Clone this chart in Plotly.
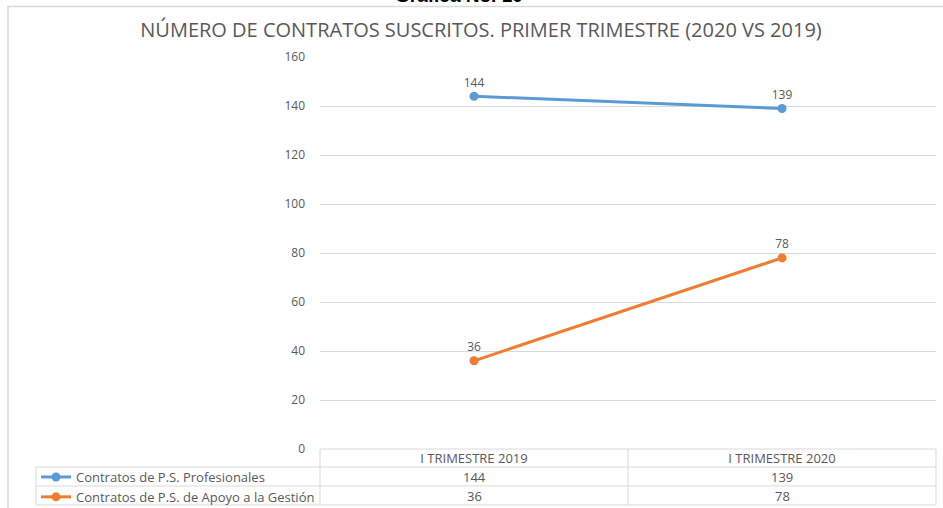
import plotly.graph_objects as go

categories = ["I TRIMESTRE 2019", "I TRIMESTRE 2020"]
series_names = ["Contratos de P.S. Profesionales", "Contratos de P.S. de Apoyo a la Gestión"]
profesionales = [144, 139]
apoyo = [36, 78]
series_values = [profesionales, apoyo]
series_colors = ["#5B9BD5", "#ED7D31"]
y_ticks = [0, 20, 40, 60, 80, 100, 120, 140, 160]

W, H = 943, 508
L, R, T, B = 320, 7, 57, 59
PW, PH = W - L - R, H - T - B
FONT = "Open Sans"
GREY = "#595959"
GRID = "#d9d9d9"

def px(x):
    return (x - L) / PW

def py(y):
    return (H - B - y) / PH

fig = go.Figure()
for name, vals, col in zip(series_names, series_values, series_colors):
    fig.add_trace(go.Scatter(
        x=categories, y=vals, name=name, mode="lines+markers+text",
        line=dict(color=col, width=3), marker=dict(color=col, size=9),
        text=[str(v) for v in vals], textposition="top center",
        textfont=dict(family=FONT, size=12, color=GREY),
        cliponaxis=False,
    ))

shapes = []
def hline(x0, x1, y):
    shapes.append(dict(type="line", xref="paper", yref="paper",
                       x0=px(x0), x1=px(x1), y0=py(y), y1=py(y),
                       line=dict(color=GRID, width=1)))
def vline(x, y0, y1):
    shapes.append(dict(type="line", xref="paper", yref="paper",
                       x0=px(x), x1=px(x), y0=py(y0), y1=py(y1),
                       line=dict(color=GRID, width=1)))

# outer chart border
shapes.append(dict(type="rect", xref="paper", yref="paper",
                   x0=px(8), x1=px(946), y0=py(6.5), y1=py(511),
                   line=dict(color=GRID, width=1.5)))
# data table
hline(320, 936, 449)
for y in (467, 486, 505):
    hline(36, 936, y)
vline(36, 467, 505)
for x in (320, 628, 936):
    vline(x, 449, 505)

annotations = []
row_y = [477, 495.5]
for vals, yy in zip(series_values, row_y):
    for c, v in zip(categories, vals):
        annotations.append(dict(x=c, xref="x", y=py(yy), yref="paper",
                                text=str(v), showarrow=False,
                                font=dict(family=FONT, size=13, color=GREY),
                                xanchor="center", yanchor="middle"))
annotations.append(dict(x=px(459), xref="paper", y=py(8), yref="paper",
                        text="<b>Gráfica No. 10</b>", showarrow=False,
                        font=dict(family="Liberation Sans", size=19, color="#000000"),
                        xanchor="center", yanchor="bottom"))

fig.update_layout(
    width=W, height=H,
    margin=dict(l=L, r=R, t=T, b=B, autoexpand=False),
    paper_bgcolor="white", plot_bgcolor="white",
    title=dict(text="NÚMERO DE CONTRATOS SUSCRITOS. PRIMER TRIMESTRE (2020 VS 2019)",
               x=481 / W, xanchor="center", y=1 - 30 / H, yanchor="middle",
               font=dict(family=FONT, size=20, color=GREY)),
    showlegend=True,
    legend=dict(x=px(36), xanchor="left", y=py(462), yanchor="top",
                font=dict(family=FONT, size=13, color=GREY),
                bgcolor="rgba(0,0,0,0)", tracegroupgap=0,
                itemwidth=30, traceorder="normal"),
    shapes=shapes, annotations=annotations,
    xaxis=dict(range=[-0.5, 1.5], showgrid=False, showline=False, zeroline=False, ticks="",
               tickfont=dict(family=FONT, size=13, color=GREY),
               ticklabelstandoff=0, fixedrange=True),
    yaxis=dict(range=[0, 160], tickvals=y_ticks, showgrid=True, gridcolor=GRID,
               gridwidth=1, zeroline=False, showline=False, ticks="",
               ticklabelstandoff=14,
               tickfont=dict(family=FONT, size=12, color=GREY), fixedrange=True),
)

fig.write_html("out.html", config={"displayModeBar": False},
               post_script="document.body.style.margin='0';document.body.style.overflow='hidden';")
